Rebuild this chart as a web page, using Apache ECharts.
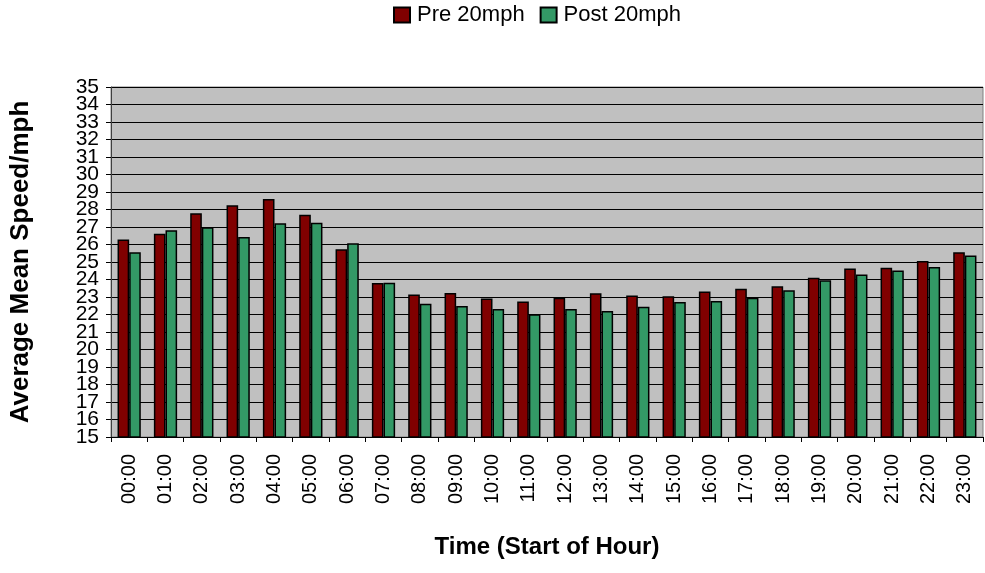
<!DOCTYPE html>
<html><head><meta charset="utf-8">
<script src="https://cdn.jsdelivr.net/npm/echarts@6/dist/echarts.min.js"></script>
<style>html,body{margin:0;padding:0;background:#fff}#c{width:985px;height:573px}</style>
</head><body><div id="c"></div>
<script>
const categories = ["00:00","01:00","02:00","03:00","04:00","05:00","06:00","07:00","08:00","09:00","10:00","11:00","12:00","13:00","14:00","15:00","16:00","17:00","18:00","19:00","20:00","21:00","22:00","23:00"];
const pre20 = [26.28,26.62,27.78,28.24,28.6,27.7,25.73,23.8,23.15,23.23,22.91,22.75,22.96,23.21,23.08,23.04,23.32,23.47,23.62,24.1,24.63,24.67,25.06,25.56];
const post20 = [25.56,26.81,26.98,26.43,27.21,27.25,26.07,23.82,22.62,22.49,22.32,22.01,22.32,22.2,22.45,22.71,22.77,22.96,23.38,23.96,24.29,24.51,24.72,25.37];
const yTicks = {min:15, max:35, interval:1};
const font = "Liberation Sans, Arial, sans-serif";
const labelStyle = {fontSize:21, color:'#000', margin:12, fontFamily:font, hideOverlap:false};
const chart = echarts.init(document.getElementById('c'), null, {renderer:'canvas'});
chart.setOption({
  animation:false,
  backgroundColor:'#ffffff',
  textStyle:{fontFamily:font},
  legend:{
    top:4, left:393, padding:0, itemWidth:16, itemHeight:15, itemGap:15,
    textStyle:{fontSize:22, color:'#000', fontFamily:font, padding:[0,0,0,2]},
    data:[{name:'Pre 20mph', icon:'rect'},{name:'Post 20mph', icon:'rect'}]
  },
  grid:{left:111, right:2, top:87, bottom:136, show:true, backgroundColor:'#c0c0c0', borderColor:'#808080', borderWidth:1},
  xAxis:{
    type:'category', data:categories,
    name:'Time (Start of Hour)', nameLocation:'middle', nameGap:98, nameMoveOverlap:false,
    nameTextStyle:{fontSize:24, fontWeight:'bold', color:'#000', fontFamily:font},
    axisLine:{lineStyle:{color:'#000', width:1}},
    axisTick:{show:true, alignWithLabel:false, length:5, lineStyle:{color:'#000'}},
    axisLabel:{rotate:90, fontSize:20, color:'#000', margin:17, fontFamily:font},
    splitLine:{show:false}
  },
  yAxis:[{
    type:'value', position:'left', offset:0, min:yTicks.min, max:yTicks.max, interval:yTicks.interval,
    name:'Average Mean Speed/mph', nameLocation:'middle', nameGap:77, nameRotate:90, nameMoveOverlap:false,
    nameTextStyle:{fontSize:26, fontWeight:'bold', color:'#000', fontFamily:font},
    axisLine:{show:true, lineStyle:{color:'#404040', width:1}},
    axisTick:{show:true, length:5, lineStyle:{color:'#000'}},
    axisLabel:Object.assign({}, labelStyle, {showMinLabel:true, showMaxLabel:true,
      formatter:function(v){ return v % 2 === 1 ? String(v) : ''; }}),
    splitLine:{show:true, lineStyle:{color:'#000', width:1}}
  },{
    type:'value', position:'left', offset:0, min:yTicks.min, max:yTicks.max, interval:yTicks.interval,
    axisLine:{show:false}, axisTick:{show:false}, splitLine:{show:false},
    axisLabel:Object.assign({}, labelStyle, {showMinLabel:false, showMaxLabel:false,
      formatter:function(v){ return v % 2 === 0 ? String(v) : ''; }})
  }],
  series:[
    {name:'Pre 20mph', type:'bar', data:pre20, barGap:'0%', barCategoryGap:'36%',
      itemStyle:{color:'#800000', borderColor:'#000', borderWidth:1.5}},
    {name:'Post 20mph', type:'bar', data:post20, barGap:'0%', barCategoryGap:'36%',
      itemStyle:{color:'#339966', borderColor:'#000', borderWidth:1.5}}
  ]
});
</script></body></html>
